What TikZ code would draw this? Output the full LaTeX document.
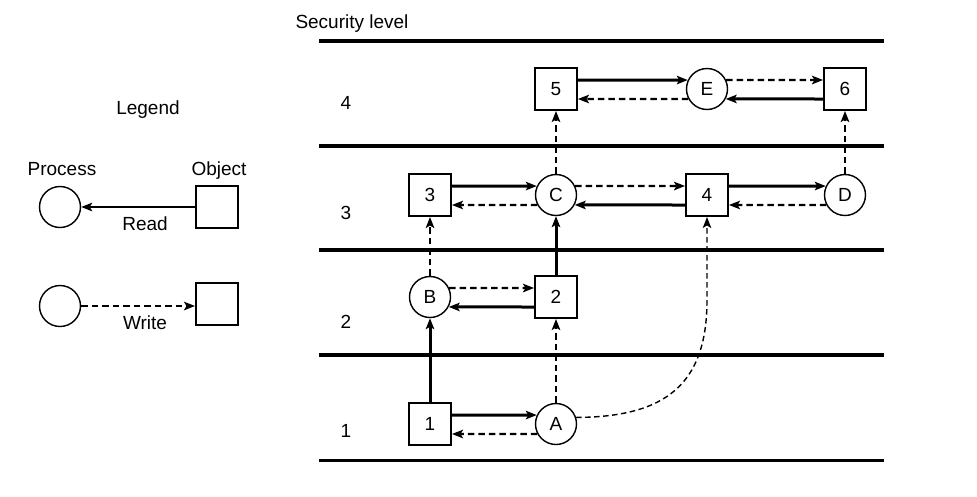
\documentclass[tikz,border=0pt]{standalone}
\usepackage{fontspec}
\setmainfont{Liberation Sans}
\usetikzlibrary{arrows.meta}
\begin{document}
\begin{tikzpicture}[x=1pt,y=-1pt,
  every node/.style={font=\fontsize{19}{22}\selectfont},
  obj/.style={draw, line width=2pt, minimum size=42pt, inner sep=0pt},
  proc/.style={draw, circle, line width=1.4pt, minimum size=41pt, inner sep=0pt},
  level/.style={line width=3.5pt},
  tip/.style={-{Stealth[length=11pt,width=8.5pt,inset=2.5pt]}},
  rd/.style={tip, line width=3pt},
  wr/.style={tip, line width=2.2pt, dash pattern=on 6.5pt off 4pt},
  flow/.style={tip, line width=1.4pt, dash pattern=on 5.5pt off 3.5pt},
  lbl/.style={anchor=base, inner sep=0pt}]
\useasboundingbox (0,0) rectangle (977,496);

% security levels
\node[lbl] (title) at (352,28) {Security level};
\foreach \yy in {41,146,250,355} \draw[level] (319,\yy) -- (884,\yy);
\draw[level, line width=3pt] (319,460) -- (884,460);
\node (lv4) at (346,103) {4};
\node (lv3) at (346,213) {3};
\node (lv2) at (346,322) {2};
\node (lv1) at (346,431) {1};

% objects (squares) and processes (circles)
\node[obj]  (n5) at (556,89)  {5};
\node[proc] (E)  at (707,89)  {E};
\node[obj]  (n6) at (845,89)  {6};
\node[obj]  (n3) at (430,195) {3};
\node[proc] (C)  at (556,195) {C};
\node[obj]  (n4) at (707,195) {4};
\node[proc] (D)  at (845,195) {D};
\node[proc] (B)  at (430,297) {B};
\node[obj]  (n2) at (556,297) {2};
\node[obj]  (n1) at (430,424) {1};
\node[proc] (A)  at (556,424) {A};

% level 4
\draw[rd] ([yshift=9pt]n5.east) -- (E.155);
\draw[wr] (E.208) -- ([yshift=-10pt]n5.east);
\draw[wr] (E.25) -- ([yshift=9pt]n6.west);
\draw[rd] ([yshift=-10pt]n6.west) -- (E.332);

% level 3
\draw[rd] ([yshift=9pt]n3.east) -- (C.155);
\draw[wr] (C.208) -- ([yshift=-10pt]n3.east);
\draw[wr] (C.25) -- ([yshift=9pt]n4.west);
\draw[rd] ([yshift=-10pt]n4.west) -- (C.332);
\draw[rd] ([yshift=9pt]n4.east) -- (D.155);
\draw[wr] (D.208) -- ([yshift=-10pt]n4.east);

% level 2
\draw[wr] (B.25) -- ([yshift=9pt]n2.west);
\draw[rd] ([yshift=-10pt]n2.west) -- (B.332);

% level 1
\draw[rd] ([yshift=9pt]n1.east) -- (A.155);
\draw[wr] (A.208) -- ([yshift=-10pt]n1.east);

% between levels
\draw[wr] (C.north) -- (n5.south);
\draw[wr] (D.north) -- (n6.south);
\draw[wr] (B.north) -- (n3.south);
\draw[rd] (n2.north) -- (C.south);
\draw[rd] (n1.north) -- (B.south);
\draw[wr] (A.north) -- (n2.south);
\draw[flow] (A.18) .. controls (665,417) and (707,385) .. (707,300) -- (n4.south);

% legend
\node[lbl] (leg) at (148,114) {Legend};
\node[lbl] (lproc) at (62,175) {Process};
\node[lbl] (lobj) at (219,175) {Object};
\node[proc] (lp1) at (60,207) {};
\node[obj]  (lo1) at (217,207) {};
\draw[rd, line width=2.2pt] (lo1.west) -- (lp1.east);
\node[lbl] (lread) at (145,230) {Read};
\node[proc] (lp2) at (60,306) {};
\node[obj]  (lo2) at (217,304) {};
\draw[wr] (lp2.east) -- (lo2.west |- lp2.east);
\node[lbl] (lwrite) at (145,329) {Write};
\end{tikzpicture}
\end{document}
